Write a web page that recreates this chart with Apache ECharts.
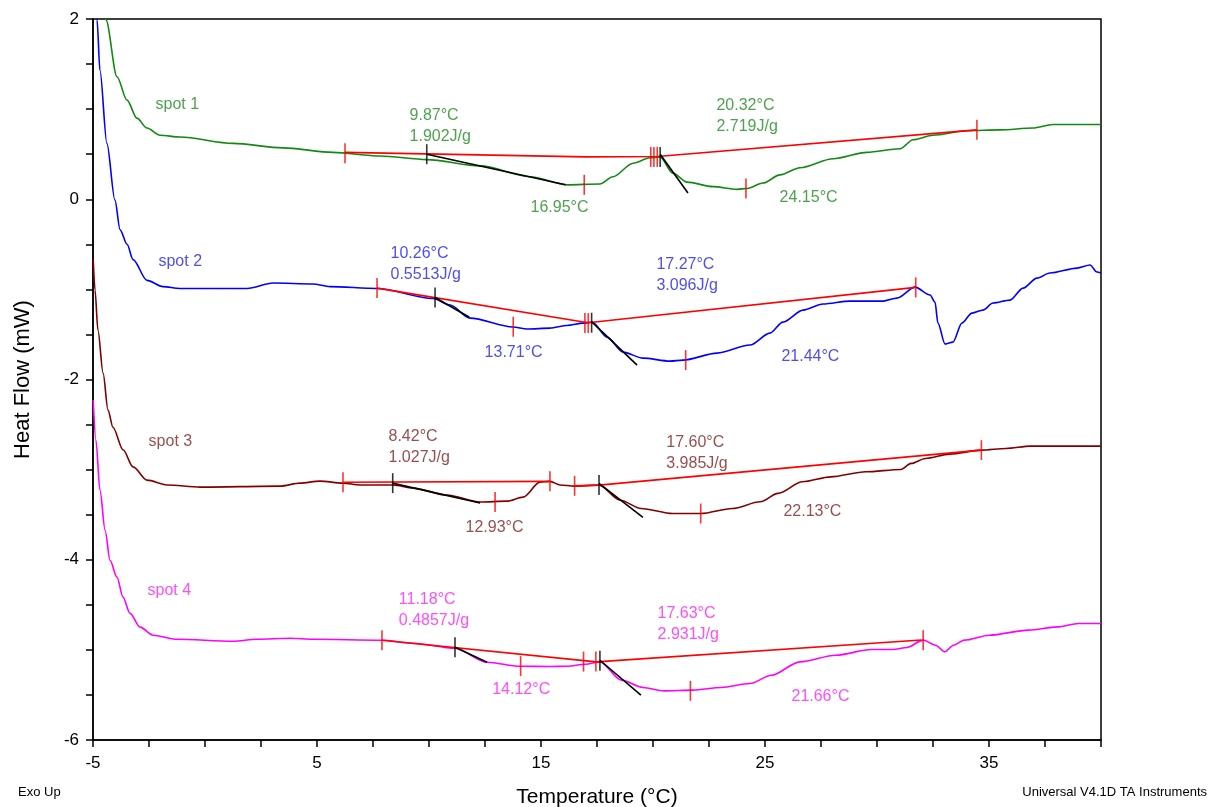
<!DOCTYPE html>
<html>
<head>
<meta charset="utf-8">
<script src="https://cdn.jsdelivr.net/npm/echarts@6/dist/echarts.min.js"></script>
<style>
  html, body { margin: 0; padding: 0; background: #fff; }
  #chart { width: 1211px; height: 807px; }
</style>
</head>
<body>
<div id="chart"></div>
<script>
// heat flow curves, [temperature °C, heat flow mW]
const spot1 = [[-4.56,2.2],[-4.42,1.99],[-3.93,1.36],[-3.48,1.10],[-3.04,0.90],[-2.59,0.79],[-2.01,0.71],[-1.12,0.69],[1.25,0.62],[3.48,0.57],[5.71,0.52],[7.81,0.48],[9.91,0.44],[12.28,0.37],[14.51,0.25],[16.16,0.16],[17.63,0.17],[18.21,0.25],[19.11,0.40],[19.87,0.46],[20.31,0.47],[20.89,0.29],[21.52,0.19],[22.68,0.14],[23.75,0.11],[24.2,0.12],[24.91,0.18],[25.67,0.27],[26.56,0.35],[28.04,0.45],[29.55,0.52],[31.03,0.56],[31.61,0.66],[32.5,0.71],[34.02,0.76],[35.49,0.77],[36.96,0.79],[37.86,0.83],[40,0.83]];
const spot2 = [[-4.88,2.5],[-4.82,1.99],[-4.69,1.43],[-4.38,0.62],[-4.02,-0.01],[-3.79,-0.34],[-3.48,-0.5],[-3.21,-0.67],[-2.59,-0.90],[-1.875,-0.97],[-1.12,-0.99],[1.875,-0.99],[3.04,-0.93],[4.82,-0.94],[5.58,-0.97],[7.68,-0.99],[10.18,-1.10],[10.94,-1.174],[11.83,-1.319],[13.75,-1.418],[14.38,-1.44],[15.40,-1.43],[16.16,-1.40],[16.875,-1.374],[17.28,-1.363],[17.95,-1.53],[18.66,-1.696],[19.55,-1.763],[20.76,-1.796],[21.34,-1.785],[22.86,-1.707],[24.33,-1.618],[25.22,-1.485],[25.80,-1.363],[26.70,-1.23],[27.59,-1.163],[28.79,-1.13],[30.27,-1.13],[30.89,-1.097],[31.70,-0.975],[32.37,-1.063],[32.59,-1.141],[32.72,-1.374],[33.04,-1.607],[33.39,-1.585],[33.79,-1.374],[34.24,-1.263],[34.73,-1.23],[35.18,-1.152],[35.94,-1.119],[36.52,-0.986],[37.14,-0.875],[37.72,-0.819],[38.93,-0.764],[39.51,-0.730],[39.82,-0.808],[40,-0.819]];
const spot3 = [[-4.99,-0.675],[-4.91,-1.008],[-4.78,-1.452],[-4.55,-1.929],[-4.33,-2.34],[-4.11,-2.53],[-3.66,-2.78],[-3.21,-2.97],[-2.59,-3.117],[-1.70,-3.17],[-0.22,-3.194],[3.35,-3.183],[4.24,-3.15],[5.13,-3.128],[6.16,-3.15],[6.92,-3.17],[8.39,-3.17],[9.29,-3.205],[10.80,-3.283],[12.28,-3.36],[13.48,-3.35],[14.20,-3.305],[14.955,-3.139],[15.40,-3.13],[15.85,-3.17],[16.50,-3.183],[17.59,-3.172],[18.54,-3.339],[19.47,-3.431],[20.88,-3.487],[22.13,-3.487],[23.54,-3.431],[24.79,-3.357],[25.58,-3.264],[26.67,-3.135],[27.93,-3.08],[29.50,-3.024],[31.06,-2.998],[31.53,-2.931],[32.16,-2.876],[33.25,-2.828],[34.66,-2.784],[35.76,-2.765],[36.85,-2.739],[40,-2.739]];
const spot4 = [[-4.99,-2.229],[-4.87,-2.673],[-4.69,-3.228],[-4.46,-3.672],[-4.24,-4.005],[-3.93,-4.193],[-3.66,-4.415],[-3.35,-4.593],[-2.90,-4.748],[-2.32,-4.837],[-1.25,-4.882],[1.25,-4.904],[2.32,-4.882],[3.79,-4.871],[4.82,-4.882],[7.90,-4.893],[9.29,-4.926],[11.16,-4.982],[12.59,-5.137],[14.06,-5.182],[15.40,-5.185],[16.16,-5.182],[16.99,-5.16],[17.63,-5.133],[18.59,-5.336],[19.55,-5.417],[20.50,-5.455],[21.78,-5.447],[23.05,-5.417],[24.33,-5.373],[25.29,-5.281],[26.56,-5.133],[28.16,-5.059],[29.75,-4.996],[30.71,-4.996],[31.34,-4.973],[32.06,-4.892],[32.62,-4.948],[33.02,-5.022],[33.42,-4.948],[33.90,-4.892],[35.01,-4.837],[36.77,-4.781],[38.04,-4.745],[39.0,-4.707],[40,-4.707]];

// integration baselines (red)
const base1 = [[6.25,0.52],[17.0,0.47],[20.2,0.475],[34.46,0.77]];
const base2 = [[7.68,-0.986],[17.1,-1.37],[31.73,-0.978]];
const base3a = [[6.16,-3.14],[15.4,-3.13]];
const base3b = [[16.5,-3.18],[17.59,-3.172],[34.66,-2.784]];
const base4 = [[7.90,-4.893],[17.47,-5.133],[31.98,-4.89]];

// onset tangents (black)
const tangents = [
  [[9.9,0.50],[16.1,0.16]], [[20.32,0.50],[21.56,0.07]],
  [[10.27,-1.09],[11.8,-1.31]], [[17.28,-1.363],[19.29,-1.84]],
  [[8.36,-3.15],[12.28,-3.37]], [[17.59,-3.153],[19.55,-3.53]],
  [[11.16,-4.97],[12.59,-5.137]], [[17.63,-5.115],[19.46,-5.503]]
];

// cursor marks
const redMarks = [[6.25,0.51],[16.93,0.16],[19.9,0.47],[20.04,0.47],[20.19,0.47],[24.15,0.12],[34.46,0.77],
  [7.68,-0.986],[13.76,-1.415],[16.96,-1.374],[17.11,-1.374],[21.46,-1.785],[31.73,-0.978],
  [6.16,-3.14],[12.95,-3.36],[15.4,-3.13],[16.5,-3.18],[22.13,-3.487],[34.66,-2.784],
  [7.90,-4.893],[14.09,-5.18],[16.9,-5.13],[17.45,-5.13],[21.67,-5.455],[32.06,-4.892]];
const blackMarks = [[9.9,0.50],[20.32,0.47],[10.27,-1.09],[17.26,-1.37],[8.38,-3.15],[17.59,-3.17],[11.16,-4.97],[17.63,-5.12]];

// annotations [x, y, text]
const labels1 = [[-2.23,1.045,'spot 1'],[9.11,0.807,'9.87°C\n1.902J/g'],[14.51,-0.098,'16.95°C'],[22.81,0.923,'20.32°C\n2.719J/g'],[25.63,0.02,'24.15°C']];
const labels2 = [[-2.10,-0.697,'spot 2'],[8.26,-0.719,'10.26°C\n0.5513J/g'],[12.46,-1.696,'13.71°C'],[20.13,-0.84,'17.27°C\n3.096J/g'],[25.71,-1.75,'21.44°C']];
const labels3 = [[-2.54,-2.684,'spot 3'],[8.17,-2.75,'8.42°C\n1.027J/g'],[11.61,-3.638,'12.93°C'],[20.57,-2.817,'17.60°C\n3.985J/g'],[25.80,-3.468,'22.13°C']];
const labels4 = [[-2.59,-4.345,'spot 4'],[8.63,-4.559,'11.18°C\n0.4857J/g'],[12.80,-5.44,'14.12°C'],[20.18,-4.717,'17.63°C\n2.931J/g'],[26.16,-5.52,'21.66°C']];

const FONT = '"Liberation Sans", Arial, sans-serif';

function curve(data, color) {
  return { type: 'line', data: data, showSymbol: false, smooth: 0.3, smoothMonotone: 'x',
    lineStyle: { color: color, width: 1.6 }, silent: true, z: 2 };
}
function plain(data, color, z) {
  return { type: 'line', data: data, showSymbol: false,
    lineStyle: { color: color, width: 1.6 }, silent: true, z: z };
}
function marks(data, color) {
  return { type: 'scatter', data: data, symbol: 'rect', symbolSize: [1.6, 20],
    itemStyle: { color: color }, silent: true, z: 5 };
}
function notes(data, color) {
  return { type: 'scatter', data: data, symbol: 'circle', symbolSize: 1,
    itemStyle: { color: 'rgba(0,0,0,0)' }, silent: true, z: 6,
    label: { show: true, position: 'right', distance: 0, formatter: p => p.data[2],
      color: color, fontSize: 16, lineHeight: 21, fontFamily: FONT } };
}

const chart = echarts.init(document.getElementById('chart'));
chart.setOption({
  animation: false,
  backgroundColor: '#fff',
  grid: { left: 93, right: 110, top: 19, bottom: 67, show: true, borderColor: '#000', borderWidth: 1.5,
    outerBoundsMode: 'none', containLabel: false },
  xAxis: {
    type: 'value', min: -5, max: 40, interval: 2.5,
    name: 'Temperature (°C)', nameLocation: 'middle', nameGap: 47,
    nameTextStyle: { fontSize: 21, color: '#000', fontFamily: FONT },
    axisLine: { onZero: false, lineStyle: { color: '#000', width: 1.5 } },
    axisTick: { length: 7, lineStyle: { color: '#000', width: 1.5 } },
    axisLabel: { color: '#000', fontSize: 17, fontFamily: FONT, margin: 15,
      formatter: v => ((v + 5) % 10 === 0 ? String(v) : '') },
    splitLine: { show: false }
  },
  yAxis: {
    type: 'value', min: -6, max: 2, interval: 0.5,
    name: 'Heat Flow (mW)', nameLocation: 'middle', nameGap: 59,
    nameTextStyle: { fontSize: 22, color: '#000', fontFamily: FONT },
    axisLine: { onZero: false, lineStyle: { color: '#000', width: 1.5 } },
    axisTick: { length: 7, lineStyle: { color: '#000', width: 1.5 } },
    axisLabel: { color: '#000', fontSize: 17, fontFamily: FONT, margin: 14,
      formatter: v => (v % 2 === 0 ? String(v) : '') },
    splitLine: { show: false }
  },
  graphic: [
    { type: 'text', left: 18, top: 786, style: { text: 'Exo Up', fontSize: 13, fill: '#000', fontFamily: FONT } },
    { type: 'text', right: 4, top: 786, style: { text: 'Universal V4.1D TA Instruments', fontSize: 13, fill: '#000', fontFamily: FONT } }
  ],
  series: [
    curve(spot1, '#118a11'),
    curve(spot2, '#0000ff'),
    curve(spot3, '#800000'),
    curve(spot4, '#ff00ff'),
    plain(base1, '#ff0000', 3),
    plain(base2, '#ff0000', 3),
    plain(base3a, '#ff0000', 3),
    plain(base3b, '#ff0000', 3),
    plain(base4, '#ff0000', 3),
    ...tangents.map(t => plain(t, '#000000', 4)),
    marks(redMarks, '#ff0000'),
    marks(blackMarks, '#000000'),
    notes(labels1, '#1e8c1e'),
    notes(labels2, '#2020f0'),
    notes(labels3, '#802020'),
    notes(labels4, '#ff20ff')
  ]
});
</script>
</body>
</html>
